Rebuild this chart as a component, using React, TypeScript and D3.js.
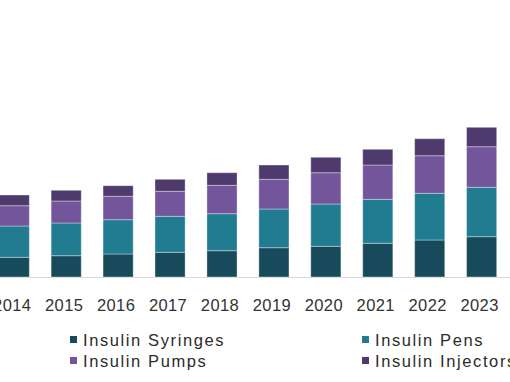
import React from "react";
import * as d3 from "d3";

const years = ["2014", "2015", "2016", "2017", "2018", "2019", "2020", "2021", "2022", "2023"];
const seriesNames = ["Insulin Syringes", "Insulin Pens", "Insulin Pumps", "Insulin Injectors"];
const syringes = [19.7, 21.3, 23.0, 24.7, 26.3, 29.3, 30.7, 33.7, 37.0, 40.3];
const pens = [31.3, 32.7, 34.3, 36.0, 37.0, 38.7, 42.3, 44.0, 46.7, 49.4];
const pumps = [20.3, 22.0, 23.4, 25.0, 28.4, 29.7, 31.3, 34.3, 37.6, 40.6];
const injectors = [10.7, 10.7, 10.6, 12.0, 12.6, 14.3, 15.4, 15.7, 17.0, 19.4];
const colors = ["#174B5B", "#217B91", "#73559B", "#4F3A6E"];

const W = 510;
const H = 382;

export default function App() {
  const rows = years.map((y, i) => ({
    year: y,
    "Insulin Syringes": syringes[i],
    "Insulin Pens": pens[i],
    "Insulin Pumps": pumps[i],
    "Insulin Injectors": injectors[i],
  }));
  const stacked = d3.stack<any>().keys(seriesNames)(rows);

  const x = d3
    .scaleBand<string>()
    .domain(years)
    .range([-11.7, 507.6])
    .paddingInner(0.42)
    .paddingOuter(0.21);
  const y = d3.scaleLinear().domain([0, 150]).range([277, 127]);

  const legend = [
    { name: seriesNames[0], color: colors[0], x: 70, y: 0 },
    { name: seriesNames[1], color: colors[1], x: 362, y: 0 },
    { name: seriesNames[2], color: colors[2], x: 70, y: 1 },
    { name: seriesNames[3], color: colors[3], x: 362, y: 1 },
  ];

  return (
    <svg
      width={W}
      height={H}
      style={{ position: "absolute", left: 0, top: 0, background: "#fff" }}
      fontFamily="'Liberation Sans', Arial, sans-serif"
    >
      <line x1={0} x2={W} y1={277.5} y2={277.5} stroke="#d9d9d9" strokeWidth={1} />
      {stacked.map((s, si) => (
        <g key={s.key} fill={colors[si]}>
          {s.map((d, i) => (
            <rect
              key={i}
              x={x(years[i])!}
              width={x.bandwidth()}
              y={y(d[1])}
              height={y(d[0]) - y(d[1])}
              stroke="rgba(255,255,255,0.35)"
              strokeWidth={1}
            />
          ))}
        </g>
      ))}
      {years.map((yr) => (
        <text
          key={yr}
          x={x(yr)! + x.bandwidth() / 2 - 2}
          y={311}
          textAnchor="middle"
          fontSize={16.5}
          fill="#333"
          letterSpacing={0.4}
        >
          {yr}
        </text>
      ))}
      {legend.map((l) => (
        <g key={l.name} transform={`translate(${l.x},${336 + l.y * 21})`}>
          <rect x={0} y={0} width={7} height={7} fill={l.color} />
          <text x={13} y={10} fontSize={16.5} fill="#2b2b2b" letterSpacing={1.6}>
            {l.name}
          </text>
        </g>
      ))}
    </svg>
  );
}
